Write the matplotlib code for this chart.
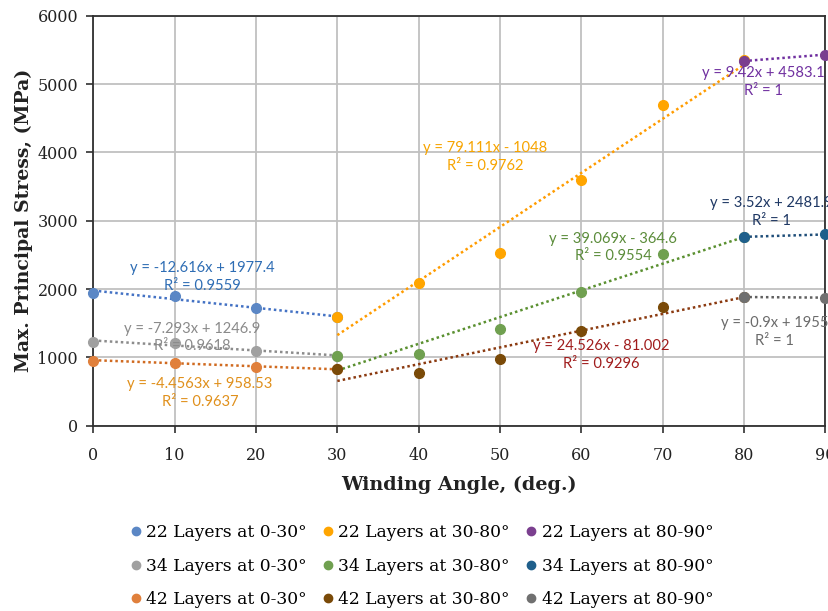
import numpy as np
import matplotlib
matplotlib.use("Agg")
import matplotlib.pyplot as plt
from matplotlib.lines import Line2D

# ---------------------------- data ----------------------------
X_0_30 = [0, 10, 20, 30]
X_30_80 = [30, 40, 50, 60, 70, 80]
X_80_90 = [80, 90]

L22_0_30 = [1942, 1892, 1722, 1590]
L34_0_30 = [1232, 1209, 1096, 1022]
L42_0_30 = [949, 924, 866, 827]

L22_30_80 = [1584, 2083, 2529, 3600, 4694, 5345]
L34_30_80 = [1022, 1047, 1408, 1957, 2519, 2763]
L42_30_80 = [827, 777, 983, 1389, 1741, 1888]

L22_80_90 = [5337, 5431]
L34_80_90 = [2763, 2799]
L42_80_90 = [1883, 1874]

# trendline coefficients as printed on the chart
SLOPES = [-12.616, -7.293, -4.4563, 79.111, 39.069, 24.526, 9.42, 3.52, -0.9]
INTERCEPTS = [1977.4, 1246.9, 958.53, -1048, -364.6, -81.002, 4583.1, 2481.9, 1955]
EQ_TEXT = ["y = -12.616x + 1977.4\nR² = 0.9559",
           "y = -7.293x + 1246.9\nR² = 0.9618",
           "y = -4.4563x + 958.53\nR² = 0.9637",
           "y = 79.111x - 1048\nR² = 0.9762",
           "y = 39.069x - 364.6\nR² = 0.9554",
           "y = 24.526x - 81.002\nR² = 0.9296",
           "y = 9.42x + 4583.1\nR² = 1",
           "y = 3.52x + 2481.9\nR² = 1",
           "y = -0.9x + 1955\nR² = 1"]
NAMES = ["22 Layers at 0-30°", "34 Layers at 0-30°", "42 Layers at 0-30°",
         "22 Layers at 30-80°", "34 Layers at 30-80°", "42 Layers at 30-80°",
         "22 Layers at 80-90°", "34 Layers at 80-90°", "42 Layers at 80-90°"]

XS = [X_0_30] * 3 + [X_30_80] * 3 + [X_80_90] * 3
YS = [L22_0_30, L34_0_30, L42_0_30, L22_30_80, L34_30_80, L42_30_80,
      L22_80_90, L34_80_90, L42_80_90]

# ---------------------------- style ----------------------------
MARK_C = ["#5B87C5", "#A0A0A0", "#E0803C", "#FFA500", "#70A050", "#7A4A08",
          "#7B3F8F", "#1F5F8B", "#707070"]
LINE_C = ["#4472C4", "#8C8C8C", "#D06A20", "#FF9C00", "#5A9030", "#8B3A10",
          "#7030A0", "#1F4E79", "#606060"]
TEXT_C = ["#2E6DB4", "#8A8A8A", "#E0901C", "#F7A400", "#5B8C3A", "#A01C1C",
          "#7030A0", "#1F3864", "#6B6B6B"]
TEXT_XY = [(13.4, 2174), (12.2, 1290), (13.1, 482), (48.2, 3935), (63.9, 2607),
           (62.4, 1037), (82.4, 5030), (83.4, 3127), (83.8, 1377)]

SERIF = "DejaVu Serif"
SANS = "Lato"

fig = plt.figure(figsize=(8.29, 6.11), dpi=100)
ax = fig.add_axes([0.1126, 0.3033, 0.8829, 0.6710])

for i in range(9):
    xs = np.array([XS[i][0], XS[i][-1]], dtype=float)
    ax.plot(xs, SLOPES[i] * xs + INTERCEPTS[i], color=LINE_C[i], lw=1.8,
            ls=(0, (1, 1.2)), zorder=2, clip_on=False)
for i in range(9):
    ax.plot(XS[i], YS[i], "o", color=MARK_C[i], ms=7, zorder=3, clip_on=False,
            label=NAMES[i])
    ax.text(TEXT_XY[i][0], TEXT_XY[i][1], EQ_TEXT[i], color=TEXT_C[i],
            fontsize=10.6, family=SANS, ha="center", va="center",
            linespacing=1.35, zorder=4)

ax.set_xlim(0, 90)
ax.set_ylim(0, 6000)
ax.set_xticks(range(0, 91, 10))
ax.set_yticks(range(0, 6001, 1000))
ax.grid(True, color="#C0C0C0", lw=1.3)
ax.set_axisbelow(True)
for s in ax.spines.values():
    s.set_color("#303030")
    s.set_linewidth(1.3)
ax.tick_params(direction="out", length=5, width=1.2, color="#303030",
               labelsize=11.5)
ax.tick_params(axis="x", pad=10)
ax.tick_params(axis="y", pad=6)
for lab in ax.get_xticklabels() + ax.get_yticklabels():
    lab.set_family(SERIF)
    lab.set_color("#222222")

ax.set_xlabel("Winding Angle, (deg.)", family=SERIF, fontsize=13.8,
              fontweight="bold", color="#222222", labelpad=9)
ax.set_ylabel("Max. Principal Stress, (MPa)", family=SERIF, fontsize=13.6,
              fontweight="bold", color="#222222", labelpad=3)

handles = [Line2D([], [], marker="o", ls="none", color=MARK_C[i], ms=6)
           for i in range(9)]
fig.legend(handles, NAMES, ncol=3, loc="lower center",
           bbox_to_anchor=(0.507, -0.02), frameon=False,
           prop={"family": SERIF, "size": 12.3}, handletextpad=0.1,
           columnspacing=0.75, labelspacing=0.95, handlelength=1.0)

fig.savefig("out.png", dpi=100)
